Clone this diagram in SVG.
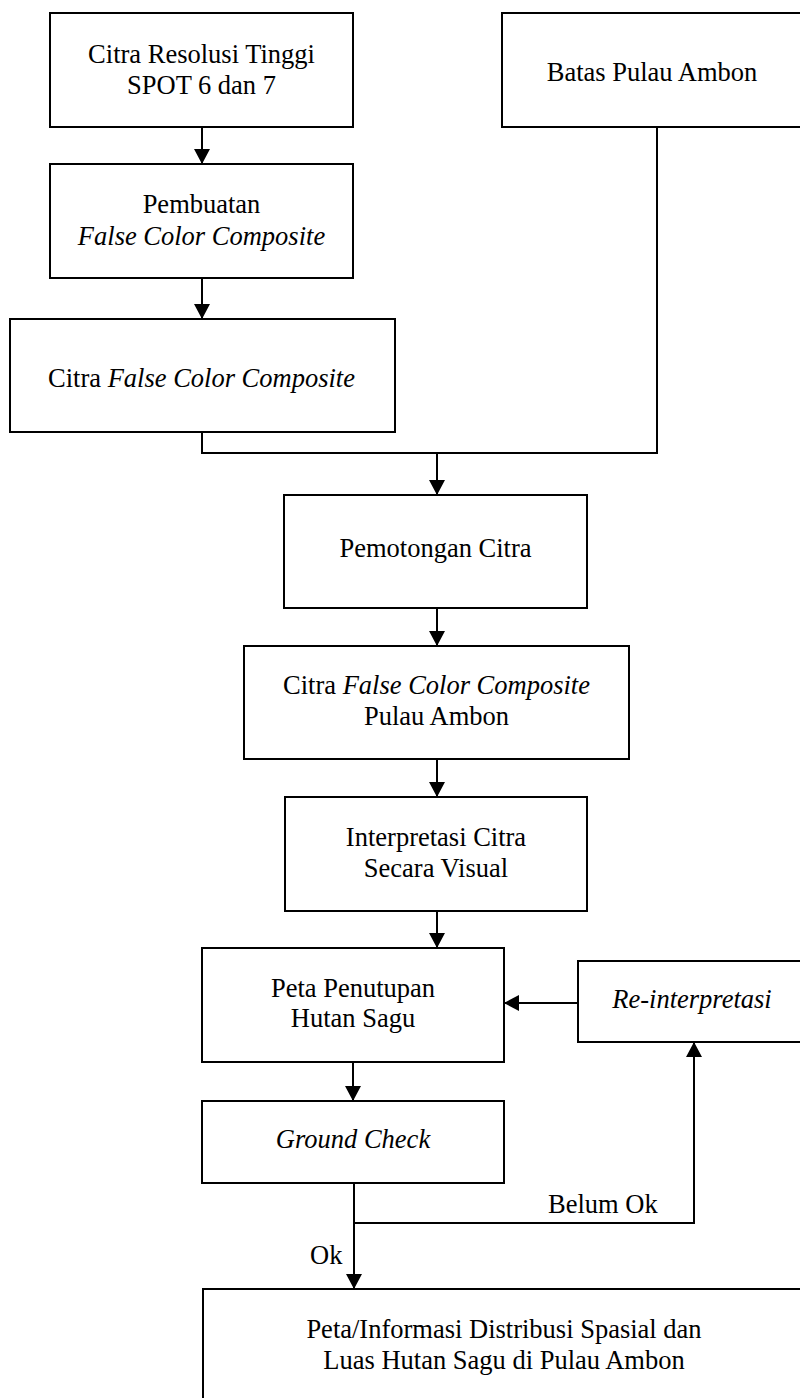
<svg xmlns="http://www.w3.org/2000/svg" width="800" height="1398" viewBox="0 0 800 1398">
<style>
.box{fill:#fff;stroke:#000;stroke-width:2}
.t{font-family:"Liberation Serif",serif;font-size:26.5px;fill:#000;text-anchor:middle}
.i{font-style:italic}
.c{fill:none;stroke:#000;stroke-width:2}
</style>
<defs>
<marker id="ah" viewBox="0 0 15 16" refX="15" refY="8" markerWidth="15" markerHeight="16" orient="auto" markerUnits="userSpaceOnUse">
<path d="M0,0 L15,8 L0,16 z" fill="#000"/>
</marker>
</defs>
<rect width="800" height="1398" fill="#fff"/>
<g id="connectors">
<line class="c" x1="202" y1="127" x2="202" y2="164" marker-end="url(#ah)"/>
<line class="c" x1="202" y1="278" x2="202" y2="319" marker-end="url(#ah)"/>
<polyline class="c" points="202,432 202,453 657,453 657,127"/>
<line class="c" x1="437" y1="453" x2="437" y2="495" marker-end="url(#ah)"/>
<line class="c" x1="437" y1="608" x2="437" y2="646" marker-end="url(#ah)"/>
<line class="c" x1="437" y1="759" x2="437" y2="797" marker-end="url(#ah)"/>
<line class="c" x1="437" y1="911" x2="437" y2="948" marker-end="url(#ah)"/>
<line class="c" x1="578" y1="1003" x2="504" y2="1003" marker-end="url(#ah)"/>
<line class="c" x1="353" y1="1062" x2="353" y2="1101" marker-end="url(#ah)"/>
<line class="c" x1="354" y1="1183" x2="354" y2="1289" marker-end="url(#ah)"/>
<polyline class="c" points="354,1223 694,1223 694,1042" marker-end="url(#ah)"/>
<text class="t" x="548" y="1213" style="text-anchor:start">Belum Ok</text>
<text class="t" x="310" y="1264" style="text-anchor:start">Ok</text>
</g>
<g id="n1">
<rect class="box" x="50" y="13" width="303" height="114"/>
<text class="t" x="201.5" y="63">Citra Resolusi Tinggi</text>
<text class="t" x="201.5" y="94">SPOT 6 dan 7</text>
</g>
<g id="n2">
<rect class="box" x="502" y="13" width="300" height="114"/>
<text class="t" x="652" y="81">Batas Pulau Ambon</text>
</g>
<g id="n3">
<rect class="box" x="50" y="164" width="303" height="114"/>
<text class="t" x="201.5" y="213">Pembuatan</text>
<text class="t" x="201.5" y="245" font-style="italic">False Color Composite</text>
</g>
<g id="n4">
<rect class="box" x="10" y="319" width="385" height="113"/>
<text class="t" x="201.5" y="387">Citra <tspan font-style="italic">False Color Composite</tspan></text>
</g>
<g id="n5">
<rect class="box" x="284" y="495" width="303" height="113"/>
<text class="t" x="435.5" y="557">Pemotongan Citra</text>
</g>
<g id="n6">
<rect class="box" x="244" y="646" width="385" height="113"/>
<text class="t" x="436.5" y="694">Citra <tspan font-style="italic">False Color Composite</tspan></text>
<text class="t" x="436.5" y="725">Pulau Ambon</text>
</g>
<g id="n7">
<rect class="box" x="285" y="797" width="302" height="114"/>
<text class="t" x="436" y="846">Interpretasi Citra</text>
<text class="t" x="436" y="877">Secara Visual</text>
</g>
<g id="n8">
<rect class="box" x="202" y="948" width="302" height="114"/>
<text class="t" x="353" y="997">Peta Penutupan</text>
<text class="t" x="353" y="1027">Hutan Sagu</text>
</g>
<g id="n9">
<rect class="box" x="578" y="961" width="228" height="81"/>
<text class="t" x="692" y="1008" font-style="italic">Re-interpretasi</text>
</g>
<g id="n10">
<rect class="box" x="202" y="1101" width="302" height="82"/>
<text class="t" x="353" y="1148" font-style="italic">Ground Check</text>
</g>
<g id="n11">
<rect class="box" x="203" y="1289" width="603" height="120"/>
<text class="t" x="504" y="1338">Peta/Informasi Distribusi Spasial dan</text>
<text class="t" x="504" y="1369">Luas Hutan Sagu di Pulau Ambon</text>
</g>
</svg>
